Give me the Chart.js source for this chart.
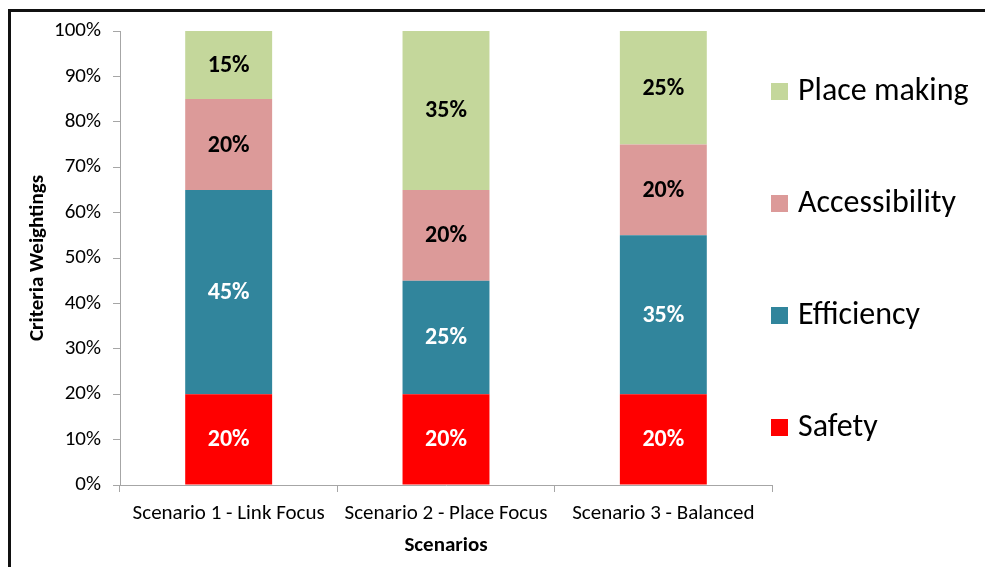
<!DOCTYPE html>
<html>
<head>
<meta charset="utf-8">
<script src="https://cdn.jsdelivr.net/npm/chart.js@4.4.1/dist/chart.umd.min.js"></script>
<style>
    body { margin: 0; background: #fff; }
    .frame {
        position: absolute;
        left: 8px;
        top: 9px;
        width: 977px;
        height: 558px;
        border-top: 3px solid #111;
        border-left: 3px solid #111;
        box-sizing: border-box;
    }
    #wrap { position: absolute; left: 0; top: 0; width: 985px; height: 567px; }
</style>
</head>
<body>
<div class="frame"></div>
<div id="wrap"><canvas id="weightsChart" width="985" height="567"></canvas></div>
<script>
const scenarios = ["Scenario 1 - Link Focus", "Scenario 2 - Place Focus", "Scenario 3 - Balanced"];
const safety = [20, 20, 20];
const efficiency = [45, 25, 35];
const accessibility = [20, 20, 20];
const placeMaking = [15, 35, 25];
const yTicks = [0, 10, 20, 30, 40, 50, 60, 70, 80, 90, 100];

const FONT = "Carlito, Lato, 'Open Sans', sans-serif";

// draws the % value in the middle of each segment
const segmentLabels = {
    id: "segmentLabels",
    afterDatasetsDraw(chart) {
        const ctx = chart.ctx;
        ctx.save();
        ctx.font = "bold 24px " + FONT;
        ctx.textAlign = "center";
        ctx.textBaseline = "middle";
        chart.data.datasets.forEach((ds, i) => {
            const meta = chart.getDatasetMeta(i);
            meta.data.forEach((bar, j) => {
                ctx.fillStyle = ds.labelColor;
                ctx.fillText(ds.data[j] + "%", bar.x, (bar.y + bar.base) / 2 + 1);
            });
        });
        ctx.restore();
    }
};

// excel-ish legend on the right, top entry = last dataset
const sideLegend = {
    id: "sideLegend",
    afterDraw(chart) {
        const ctx = chart.ctx;
        const area = chart.chartArea;
        const x = area.right - 1;
        const step = 112;
        ctx.save();
        ctx.font = "32px " + FONT;
        ctx.textBaseline = "middle";
        const items = chart.data.datasets.slice().reverse();
        items.forEach((ds, i) => {
            const y = area.top + 60 + i * step;
            ctx.fillStyle = ds.backgroundColor;
            ctx.fillRect(x, y - 8, 17, 17);
            ctx.fillStyle = "#000";
            ctx.fillText(ds.label, x + 27, y + 1);
        });
        ctx.restore();
    }
};

new Chart(document.getElementById("weightsChart"), {
    type: "bar",
    data: {
        labels: scenarios,
        datasets: [
            { label: "Safety", data: safety, backgroundColor: "#ff0000", labelColor: "#fff" },
            { label: "Efficiency", data: efficiency, backgroundColor: "#31859c", labelColor: "#fff" },
            { label: "Accessibility", data: accessibility, backgroundColor: "#dc9a99", labelColor: "#000" },
            { label: "Place making", data: placeMaking, backgroundColor: "#c4d79b", labelColor: "#000" }
        ]
    },
    options: {
        responsive: false,
        animation: false,
        devicePixelRatio: 1,
        barPercentage: 0.4,
        categoryPercentage: 1,
        layout: { padding: { left: 0, top: 31, right: 213, bottom: 0 } },
        plugins: {
            tooltip: { enabled: false },
            legend: { display: false }
        },
        scales: {
            x: {
                stacked: true,
                afterFit: axis => { axis.height = 82; },
                grid: { drawOnChartArea: false, tickLength: 7, color: "#a6a6a6" },
                border: { color: "#a6a6a6" },
                ticks: { color: "#000", font: { size: 21, family: FONT }, padding: 9, maxRotation: 0, autoSkip: false },
                title: { display: true, text: "Scenarios", color: "#000", font: { size: 21, weight: "bold", family: FONT }, padding: { top: 0, bottom: 9 } }
            },
            y: {
                stacked: true,
                min: 0,
                max: 100,
                afterFit: axis => { axis.width = 120; },
                afterBuildTicks: axis => { axis.ticks = yTicks.map(v => ({ value: v })); },
                grid: { drawOnChartArea: false, tickLength: 7, color: "#a6a6a6" },
                border: { color: "#a6a6a6" },
                ticks: { color: "#000", font: { size: 21, family: FONT }, padding: 12, callback: v => v + "%" },
                title: { display: true, text: "Criteria Weightings", color: "#000", font: { size: 21, weight: "bold", family: FONT }, padding: { top: 25, bottom: 0 } }
            }
        }
    },
    plugins: [segmentLabels, sideLegend]
});
</script>
</body>
</html>
